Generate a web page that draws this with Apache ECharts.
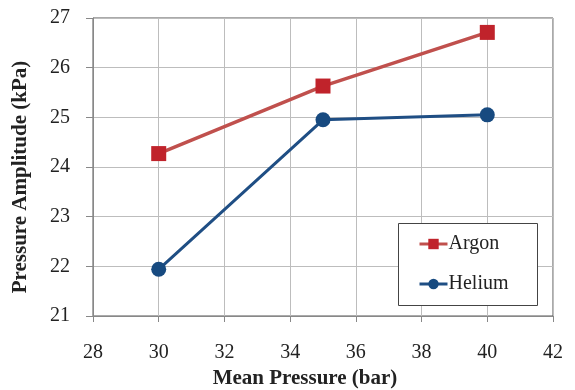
<!DOCTYPE html>
<html><head><meta charset="utf-8">
<script src="https://cdn.jsdelivr.net/npm/echarts@6/dist/echarts.min.js"></script>
<style>html,body{margin:0;padding:0;background:#fff}#c{width:575px;height:390px}</style>
</head><body><div id="c"></div>
<script>
const meanPressure = [30, 35, 40];
const argon = [24.27, 25.63, 26.71];
const helium = [21.94, 24.95, 25.05];
const xName = 'Mean Pressure (bar)';
const yName = 'Pressure Amplitude (kPa)';

const font = '"Liberation Serif","Times New Roman",serif';
const chart = echarts.init(document.getElementById('c'));
chart.setOption({
  backgroundColor: '#fff',
  animation: false,
  textStyle: { fontFamily: font },
  grid: { left: 93, top: 18, right: 22, bottom: 74, show: true, borderColor: '#555', borderWidth: 1, outerBoundsMode: 'none', containLabel: false },
  graphic: [{
    type: 'rect', left: 398, top: 223, z: 5,
    shape: { width: 139, height: 82 },
    style: { fill: '#fff', stroke: '#444', lineWidth: 1 }
  }],
  xAxis: {
    type: 'value', min: 28, max: 42, interval: 2,
    name: xName, nameLocation: 'middle', nameGap: 52,
    nameTextStyle: { fontFamily: font, fontSize: 21, fontWeight: 'bold', color: '#222', padding: [0, 36, 0, 0] },
    axisLine: { show: true, lineStyle: { color: '#888', width: 1 } },
    axisTick: { show: true, length: 6, lineStyle: { color: '#888' } },
    axisLabel: { fontFamily: font, fontSize: 20, color: '#222', margin: 27 },
    splitLine: { show: true, lineStyle: { color: '#bdbdbd', width: 1 } }
  },
  yAxis: {
    type: 'value', min: 21, max: 27, interval: 1,
    name: yName, nameLocation: 'middle', nameGap: 62, nameRotate: 90,
    nameTextStyle: { fontFamily: font, fontSize: 21, fontWeight: 'bold', color: '#222', padding: [0, 20, 0, 0] },
    axisLine: { show: true, lineStyle: { color: '#888', width: 1 } },
    axisTick: { show: true, length: 7, lineStyle: { color: '#888' } },
    axisLabel: { fontFamily: font, fontSize: 20, color: '#222', margin: 23 },
    splitLine: { show: true, lineStyle: { color: '#bdbdbd', width: 1 } }
  },
  legend: {
    orient: 'vertical', left: 418, top: 234, z: 6,
    padding: 0, itemGap: 20,
    itemWidth: 28, itemHeight: 13,
    lineStyle: { width: 3 },
    textStyle: { fontFamily: font, fontSize: 20, color: '#222', padding: [0, 0, 0, -4] },
    data: ['Argon', 'Helium']
  },
  series: [
    {
      name: 'Argon', type: 'line',
      data: meanPressure.map((x, i) => [x, argon[i]]),
      symbol: 'rect', symbolSize: 15,
      lineStyle: { color: '#C0504D', width: 3.5 },
      itemStyle: { color: '#C0232B' }
    },
    {
      name: 'Helium', type: 'line',
      data: meanPressure.map((x, i) => [x, helium[i]]),
      symbol: 'circle', symbolSize: 15,
      lineStyle: { color: '#1F4E84', width: 3 },
      itemStyle: { color: '#174A80' }
    }
  ]
});
</script></body></html>
